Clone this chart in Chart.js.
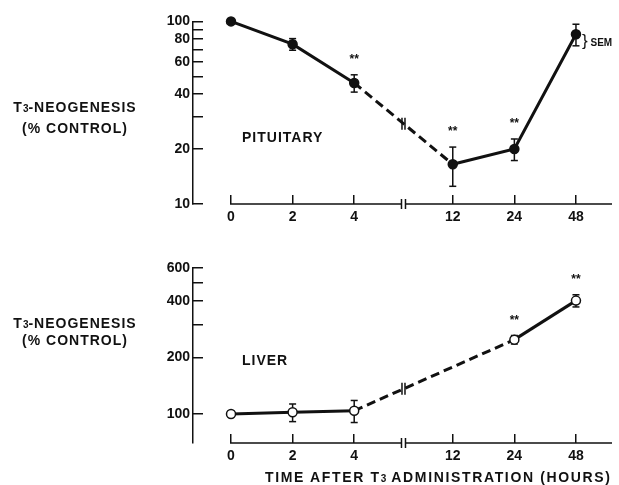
<!DOCTYPE html>
<html>
<head>
<meta charset="utf-8">
<script src="https://cdn.jsdelivr.net/npm/chart.js@4.4.0/dist/chart.umd.min.js"></script>
<style>
  body { margin: 0; background: #fff; }
  #wrap { position: relative; width: 619px; height: 485px; background: #fff; overflow: hidden; }
  canvas { position: absolute; left: 0; }
  .lbl { position: absolute; font-family: "Liberation Sans", Arial, sans-serif; font-weight: bold;
         font-size: 14px; line-height: 16px; color: #111; letter-spacing: 1px; white-space: nowrap; }
  .lbl .s { font-size: 10px; letter-spacing: 0; }
  .ytitle { left: 0; width: 150px; text-align: center; }
  .xtitle { letter-spacing: 1.65px; }
  .sem { font-size: 10px; letter-spacing: 0; }
  .brace { font-weight: normal; font-size: 17px; letter-spacing: 0; }
</style>
</head>
<body>
<div id="wrap">
  <canvas id="pit" width="619" height="240" style="top:0"></canvas>
  <canvas id="liv" width="619" height="240" style="top:245px"></canvas>

  <div class="lbl ytitle" style="top:99px">T<span class="s">3</span>-NEOGENESIS</div>
  <div class="lbl ytitle" style="top:120px">(% CONTROL)</div>
  <div class="lbl" style="left:242px;top:129px">PITUITARY</div>
  <div class="lbl" style="left:582px;top:33px"><span class="brace">}</span><span class="sem"> SEM</span></div>

  <div class="lbl ytitle" style="top:315px">T<span class="s">3</span>-NEOGENESIS</div>
  <div class="lbl ytitle" style="top:332px">(% CONTROL)</div>
  <div class="lbl" style="left:242px;top:352px">LIVER</div>
  <div class="lbl xtitle" style="left:265px;top:469px">TIME AFTER T<span class="s">3</span> ADMINISTRATION (HOURS)</div>
</div>
<script>
// time axis (hours), broken between 4 and 12
const hours = [0, 2, 4, 12, 24, 48];
const slotOf = { 0: 0, 2: 1, 4: 2, 12: 3.6, 24: 4.6, 48: 5.6 };
const breakSlot = 2.8;

// pituitary, % control (log axis)
const pitHours = [0, 2, 4, 12, 24, 48];
const pitMean  = [100, 75, 46, 16.5, 20, 85];
const pitSem   = [0, 5.5, 5, 4, 2.7, 11.5];
const pitStars = [false, false, true, true, true, false];
const pitTicks = [10, 20, 30, 40, 50, 60, 70, 80, 90, 100];
const pitTickLabels = [10, 20, 40, 60, 80, 100];

// liver, % control (log axis)
const livHours = [0, 2, 4, 24, 48];
const livMean  = [100, 102, 104, 249, 402];
const livSem   = [0, 11, 14, 13, 30];
const livStars = [false, false, false, true, true];
const livTicks = [100, 200, 300, 400, 500, 600];
const livTickLabels = [100, 200, 400, 600];

const FONT = { family: '"Liberation Sans", Arial, sans-serif', size: 14, weight: 'bold' };
const INK = '#111';

// baseline of time axis, axis break, break mark on curve, significance stars
function marks(mean, sem, stars) {
    return {
        id: 'marks',
        afterDatasetsDraw(chart) {
            const { ctx, chartArea } = chart;
            const xs = chart.scales.x, ys = chart.scales.y;
            const bx = xs.getPixelForValue(breakSlot);
            const y0 = chartArea.bottom;
            ctx.save();
            ctx.strokeStyle = INK;
            ctx.lineWidth = 1.5;
            ctx.beginPath();
            ctx.moveTo(xs.getPixelForValue(0) - 1, y0);
            ctx.lineTo(bx - 2, y0);
            ctx.moveTo(bx + 2, y0);
            ctx.lineTo(chartArea.right, y0);
            ctx.moveTo(bx - 2, y0 - 5); ctx.lineTo(bx - 2, y0 + 5);
            ctx.moveTo(bx + 2, y0 - 5); ctx.lineTo(bx + 2, y0 + 5);
            ctx.stroke();

            const meta = chart.getDatasetMeta(0);
            const pts = meta.data;
            for (let i = 0; i < pts.length - 1; i++) {
                const a = meta._parsed[i].x, b = meta._parsed[i + 1].x;
                if (a < breakSlot && b > breakSlot) {
                    const t = (bx - pts[i].x) / (pts[i + 1].x - pts[i].x);
                    const by = pts[i].y + t * (pts[i + 1].y - pts[i].y);
                    ctx.beginPath();
                    ctx.moveTo(bx - 1.5, by - 6); ctx.lineTo(bx - 1.5, by + 6);
                    ctx.moveTo(bx + 1.5, by - 6); ctx.lineTo(bx + 1.5, by + 6);
                    ctx.stroke();
                }
            }

            ctx.fillStyle = INK;
            ctx.font = 'bold 12px "Liberation Sans", Arial, sans-serif';
            ctx.textAlign = 'center';
            ctx.textBaseline = 'middle';
            stars.forEach((s, i) => {
                if (!s) return;
                const top = ys.getPixelForValue(mean[i] + sem[i]);
                ctx.fillText('**', pts[i].x, top - 15);
            });
            ctx.restore();
        }
    };
}

function makeChart(id, hrs, mean, sem, stars, yMin, yMax, yTicks, yLabels, filled, padTop, xHeight) {
    const line = {
        data: hrs.map((h, i) => ({ x: slotOf[h], y: mean[i] })),
        borderColor: INK,
        borderWidth: 3,
        pointRadius: 4.5,
        pointBorderWidth: 1.5,
        pointBorderColor: INK,
        pointBackgroundColor: filled ? INK : '#fff',
        tension: 0,
        clip: false,
        segment: {
            borderDash: c => (c.p0.parsed.x < breakSlot && c.p1.parsed.x > breakSlot) ? [9, 5] : undefined
        }
    };
    const errs = {
        data: hrs.flatMap((h, i) => sem[i] ? [
            { x: slotOf[h], y: mean[i] - sem[i] },
            { x: slotOf[h], y: mean[i] + sem[i] },
            { x: slotOf[h], y: null }
        ] : []),
        borderColor: INK,
        borderWidth: 1.5,
        pointStyle: 'line',
        pointRadius: 3.5,
        pointBorderWidth: 1.5,
        pointBorderColor: INK,
        spanGaps: false,
        clip: false
    };
    return new Chart(document.getElementById(id), {
        type: 'line',
        data: { datasets: [line, errs] },
        options: {
            responsive: false,
            animation: false,
            events: [],
            layout: { padding: { top: padTop, right: 7, left: 0, bottom: 0 } },
            plugins: { legend: { display: false }, tooltip: { enabled: false } },
            scales: {
                x: {
                    type: 'linear',
                    min: -0.617,
                    max: 6.185,
                    afterBuildTicks: s => { s.ticks = hours.map(h => ({ value: slotOf[h] })); },
                    afterFit: s => { s.height = xHeight; },
                    ticks: {
                        color: INK, font: FONT, padding: 14, maxRotation: 0, autoSkip: false,
                        callback: v => String(hours.find(h => slotOf[h] === v))
                    },
                    grid: { drawOnChartArea: false, tickLength: -9, color: INK, lineWidth: 1.5 },
                    border: { display: false }
                },
                y: {
                    type: 'logarithmic',
                    min: yMin,
                    max: yMax,
                    afterBuildTicks: s => { s.ticks = yTicks.map(v => ({ value: v })); },
                    afterFit: s => { s.width = 193; },
                    ticks: {
                        color: INK, font: FONT, padding: 13, autoSkip: false,
                        callback: v => yLabels.includes(v) ? String(v) : ''
                    },
                    grid: { drawOnChartArea: false, tickLength: -10, color: INK, lineWidth: 1.5 },
                    border: { display: true, color: INK, width: 1.5 }
                }
            }
        },
        plugins: [marks(mean, sem, stars)]
    });
}

makeChart('pit', pitHours, pitMean, pitSem, pitStars, 10, 100, pitTicks, pitTickLabels, true, 20, 36);
makeChart('liv', livHours, livMean, livSem, livStars, 70, 600, livTicks, livTickLabels, false, 23, 42);
</script>
</body>
</html>
